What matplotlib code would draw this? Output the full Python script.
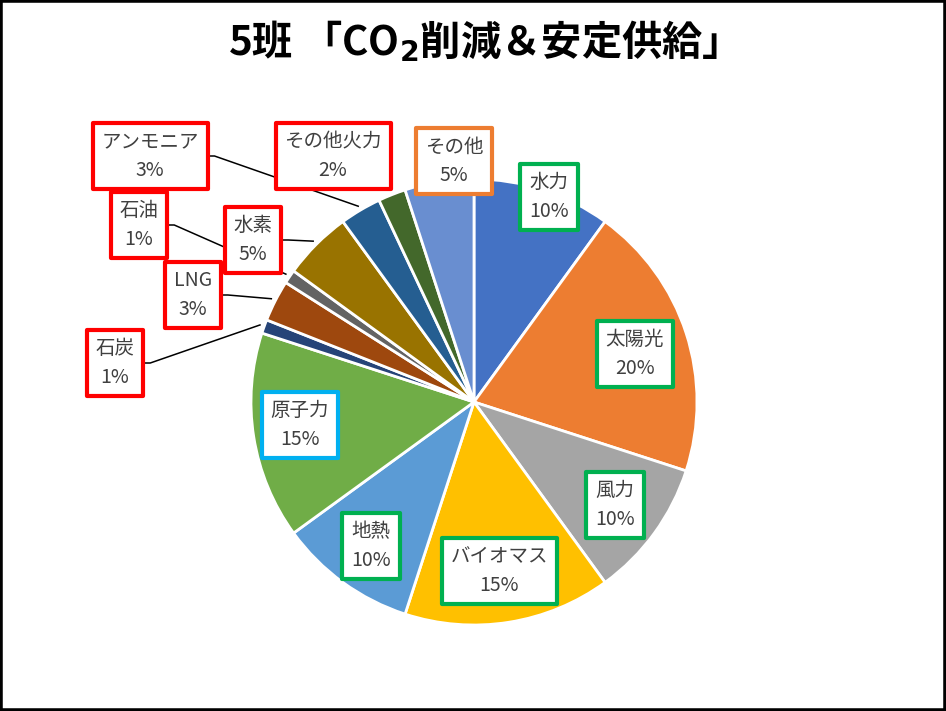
import matplotlib as mpl
import matplotlib.pyplot as plt
from matplotlib.patches import Rectangle
import numpy as np

plt.rcParams['font.family'] = ['Noto Sans CJK JP', 'DejaVu Sans']
mpl.rcParams['mathtext.fontset'] = 'dejavusans'

# データ（時計回り、12時の位置から）
labels = ["水力", "太陽光", "風力", "バイオマス", "地熱", "原子力",
          "石炭", "LNG", "石油", "水素", "アンモニア", "その他火力", "その他"]
values = [10, 20, 10, 15, 10, 15, 1, 3, 1, 5, 3, 2, 5]
colors = ["#4472C4", "#ED7D31", "#A5A5A5", "#FFC000", "#5B9BD5", "#70AD47",
          "#264478", "#9E480E", "#636363", "#997300", "#255E91", "#43682B",
          "#698ED0"]
box_colors = ["#00B050"] * 5 + ["#00B0F0"] + ["#FF0000"] * 6 + ["#ED7D31"]

# ラベルの位置（ピクセル、上から）
label_pos = [(549, 197), (635, 354), (615, 505), (499, 571), (371, 546),
             (300, 425), (115, 363), (193, 295), (139, 225), (253, 240),
             (150, 156), (333, 156), (454, 161)]
leader = ["石炭", "LNG", "石油", "水素", "アンモニア"]

W, H = 946, 711
fig = plt.figure(figsize=(W / 100, H / 100), dpi=100)
ax = fig.add_axes([0, 0, 1, 1])

cx, cy, r = 474, H - 402, 223
wedges, _ = ax.pie(values, colors=colors, startangle=90, counterclock=False,
                   center=(cx, cy), radius=r,
                   wedgeprops=dict(edgecolor="white", linewidth=2))
ax.set_xlim(0, W)
ax.set_ylim(0, H)
ax.axis("off")

texts = []
for lab, v, (px, py), ec in zip(labels, values, label_pos, box_colors):
    t = ax.text(px, H - py, f"{lab}\n{v}%", ha="center", va="center",
                fontsize=14, color="#404040", linespacing=1.45, zorder=5,
                bbox=dict(boxstyle="square,pad=0.45", facecolor="white",
                          edgecolor=ec, linewidth=3, joinstyle="round"))
    texts.append(t)

# 引き出し線
fig.canvas.draw()
renderer = fig.canvas.get_renderer()
for lab, w, t in zip(labels, wedges, texts):
    if lab not in leader:
        continue
    bb = t.get_bbox_patch().get_window_extent(renderer)
    x0 = bb.x1
    y0 = (bb.y0 + bb.y1) / 2
    ang = np.deg2rad((w.theta1 + w.theta2) / 2)
    ex = cx + r * 1.02 * np.cos(ang)
    ey = cy + r * 1.02 * np.sin(ang)
    ax.plot([x0, x0 + 7, ex], [y0, y0, ey], color="black", lw=1.1, zorder=3)

fig.text(0.5, 1 - 42 / H, "5班 「CO$_\\mathbf{2}$削減＆安定供給」",
         ha="center", va="center", fontsize=29, fontweight="bold",
         color="black")

fig.patches.append(Rectangle((0, 0), 1, 1, transform=fig.transFigure,
                             fill=False, edgecolor="black", linewidth=4))

fig.savefig("out.png", dpi=100)
